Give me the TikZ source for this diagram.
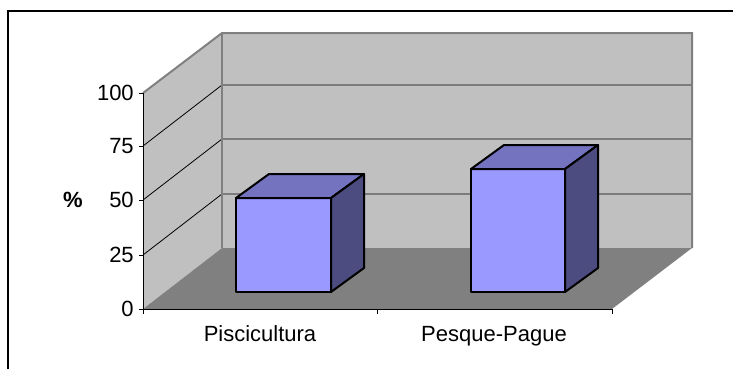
\documentclass[tikz,border=0pt]{standalone}
\usepackage{fontspec}
\setmainfont{Liberation Sans}
\definecolor{wallgray}{HTML}{C0C0C0}
\definecolor{floorgray}{HTML}{808080}
\definecolor{barfront}{HTML}{9999FF}
\definecolor{bartop}{HTML}{7373C0}
\definecolor{barside}{HTML}{4C4C80}
\begin{document}
\begin{tikzpicture}[x=0.75pt,y=-0.75pt,font=\fontsize{16.5}{20}\selectfont]
		\useasboundingbox (0,0) rectangle (733,369);
		\draw[line width=0.8pt] (8,369) -- (8,11) -- (733,11);
		% walls and floor
		\fill[wallgray] (143,93) -- (222,33) -- (222,248) -- (143,309) -- cycle;
		\fill[wallgray] (222,33) rectangle (692,248);
		\fill[floorgray] (143,309) -- (222,248) -- (692,248) -- (612,309) -- cycle;
		\foreach \y in {146,200,255} \draw[line width=0.6pt] (143,\y) -- (222,\y-61) -- (692,\y-61);
		\draw[floorgray, line width=1.5pt] (143,93) -- (222,33) -- (692,33) -- (692,248);
		\draw[floorgray, line width=1.5pt] (222,33) -- (222,248);
		% axes
		\draw[line width=0.6pt] (143,93) -- (143,309) -- (612,309);
		\foreach \v/\y in {0/309,25/255,50/200,75/146,100/93} {
			\draw[line width=0.6pt] (139,\y) -- (143,\y);
			\node[left, inner sep=0pt] (t\v) at (134,\y) {\v};
		}
		\foreach \x in {143,377,612} \draw[line width=0.6pt] (\x,309) -- (\x,314);
		\node (pct) at (73,200) {\textbf{\%}};
		% bars
		\foreach \xa/\xb/\yt in {236/331/198, 471/565/169} {
			\filldraw[fill=barfront, line width=1.5pt, line join=round] (\xa,\yt) rectangle (\xb,292);
			\filldraw[fill=bartop, line width=1.5pt, line join=round] (\xa,\yt) -- (\xa+33,\yt-24) -- (\xb+33,\yt-24) -- (\xb,\yt) -- cycle;
			\filldraw[fill=barside, line width=1.5pt, line join=round] (\xb,\yt) -- (\xb+33,\yt-24) -- (\xb+33,268) -- (\xb,292) -- cycle;
		}
		\node[anchor=base] (cat1) at (260,341) {Piscicultura};
		\node[anchor=base] (cat2) at (494,341) {Pesque-Pague};
	\end{tikzpicture}
\end{document}
